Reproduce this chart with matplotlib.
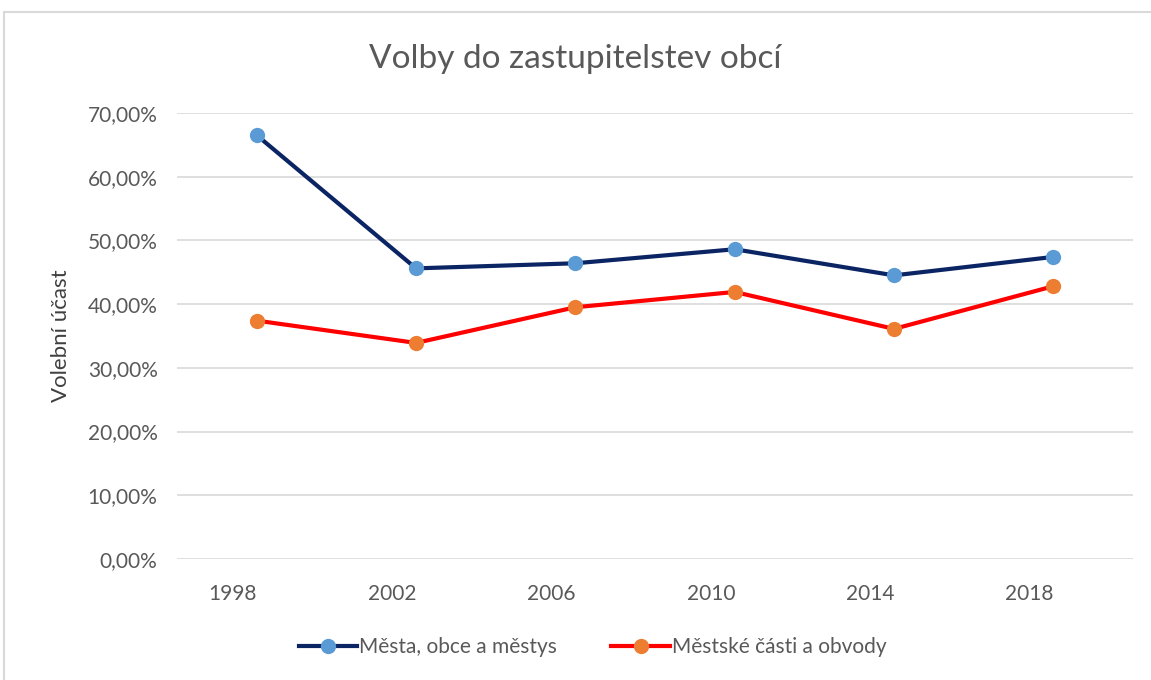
import matplotlib.pyplot as plt
import matplotlib.ticker as mticker
from matplotlib.patches import Rectangle
import numpy as np

# Data
roky = ['1998', '2002', '2006', '2010', '2014', '2018']
mesta = [0.665, 0.456, 0.464, 0.486, 0.445, 0.474]
mestske_casti = [0.374, 0.339, 0.395, 0.419, 0.361, 0.428]

plt.rcParams['font.family'] = ['Lato', 'DejaVu Sans']
sedy = '#595959'

fig = plt.figure(figsize=(11.51, 6.80), dpi=100)
ax = fig.add_axes([0.1538, 0.178, 0.8306, 0.656])

# ramecek grafu
fig.patches.append(Rectangle((4 / 1151, -0.1), 1.2, 1 - 12 / 680 + 0.1,
                             transform=fig.transFigure, fill=False,
                             edgecolor='#d9d9d9', linewidth=1.5))

x = np.arange(len(roky))
ax.plot(x, mesta, color='#0b2463', linewidth=3, marker='o', markersize=11,
        markerfacecolor='#5b9bd5', markeredgewidth=0, label='Města, obce a městys',
        zorder=3)
ax.plot(x, mestske_casti, color='#ff0000', linewidth=3, marker='o', markersize=11,
        markerfacecolor='#ed7d31', markeredgewidth=0, label='Městské části a obvody',
        zorder=3)

ax.set_xlim(-0.5, len(roky) - 0.5)
ax.set_ylim(0, 0.7)
ax.set_yticks(np.arange(0, 0.71, 0.1))
ax.yaxis.set_major_formatter(mticker.FuncFormatter(
    lambda v, p: f'{v * 100:.2f}'.replace('.', ',') + '%'))
ax.set_xticks(x - 0.15)
ax.set_xticklabels(roky)

ax.grid(axis='y', color='#d9d9d9', linewidth=1.2)
ax.set_axisbelow(True)
for s in ax.spines.values():
    s.set_visible(False)
ax.tick_params(length=0, labelsize=15, colors=sedy, pad=14)
ax.tick_params(axis='x', pad=18)

ax.set_ylabel('Volební účast', fontsize=16, color='#404040', labelpad=12)
fig.suptitle('Volby do zastupitelstev obcí', fontsize=24, color=sedy, y=0.935)

leg = fig.legend(loc='center', bbox_to_anchor=(0.515, 0.048), ncol=2,
                 frameon=False, fontsize=15, handlelength=2.8,
                 columnspacing=2.6, handletextpad=0.1)
for t in leg.get_texts():
    t.set_color(sedy)

fig.savefig('out.png', dpi=100)
